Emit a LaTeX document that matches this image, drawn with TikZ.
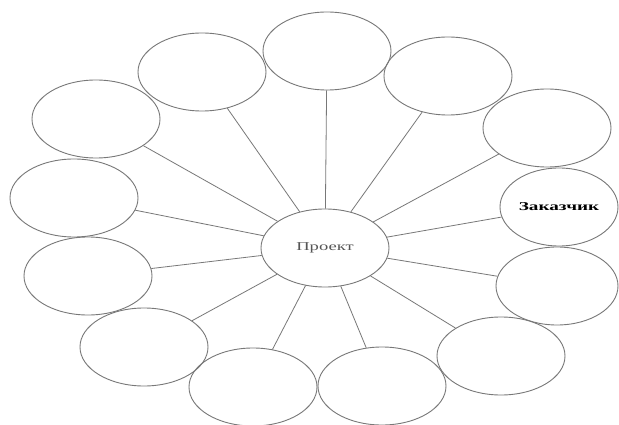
\documentclass[tikz,border=0pt]{standalone}
\usepackage{fontspec}
\setmainfont{Liberation Serif}
\usetikzlibrary{shapes.geometric}
\definecolor{linegray}{RGB}{120,120,120}
\definecolor{textgray}{RGB}{85,85,85}
\tikzset{
  bubble/.style={ellipse, draw=linegray, line width=0.9pt, inner sep=0pt,
    minimum width=128pt, minimum height=78pt},
  spoke/.style={draw=linegray, line width=0.8pt}
}
\begin{document}
\begin{tikzpicture}[x=1pt,y=-1pt]
\useasboundingbox (0,0) rectangle (619,425);
\fill[white] (0,0) rectangle (619,425);
\node[bubble] (c) at (325,248) {\textcolor{textgray}{\scalebox{1.55}[1]{\fontsize{12}{12}\selectfont Проект}}};
\node[bubble] (n1) at (327,51) {};
\node[bubble] (n2) at (448,76) {};
\node[bubble] (n3) at (547,128) {};
\node[bubble, minimum width=118pt] (n4) at (559,207) {\scalebox{1.6}[1]{\fontsize{12}{12}\selectfont\bfseries Заказчик}};
\node[bubble, minimum width=122pt] (n5) at (557,286) {};
\node[bubble] (n6) at (501,356) {};
\node[bubble] (n7) at (382,386) {};
\node[bubble] (n8) at (253,387) {};
\node[bubble] (n9) at (144,347) {};
\node[bubble] (n10) at (88,276) {};
\node[bubble] (n11) at (74,198) {};
\node[bubble] (n12) at (96,119) {};
\node[bubble] (n13) at (202,72) {};
\foreach \i in {1,...,13} \draw[spoke] (c) -- (n\i);
\end{tikzpicture}
\end{document}
